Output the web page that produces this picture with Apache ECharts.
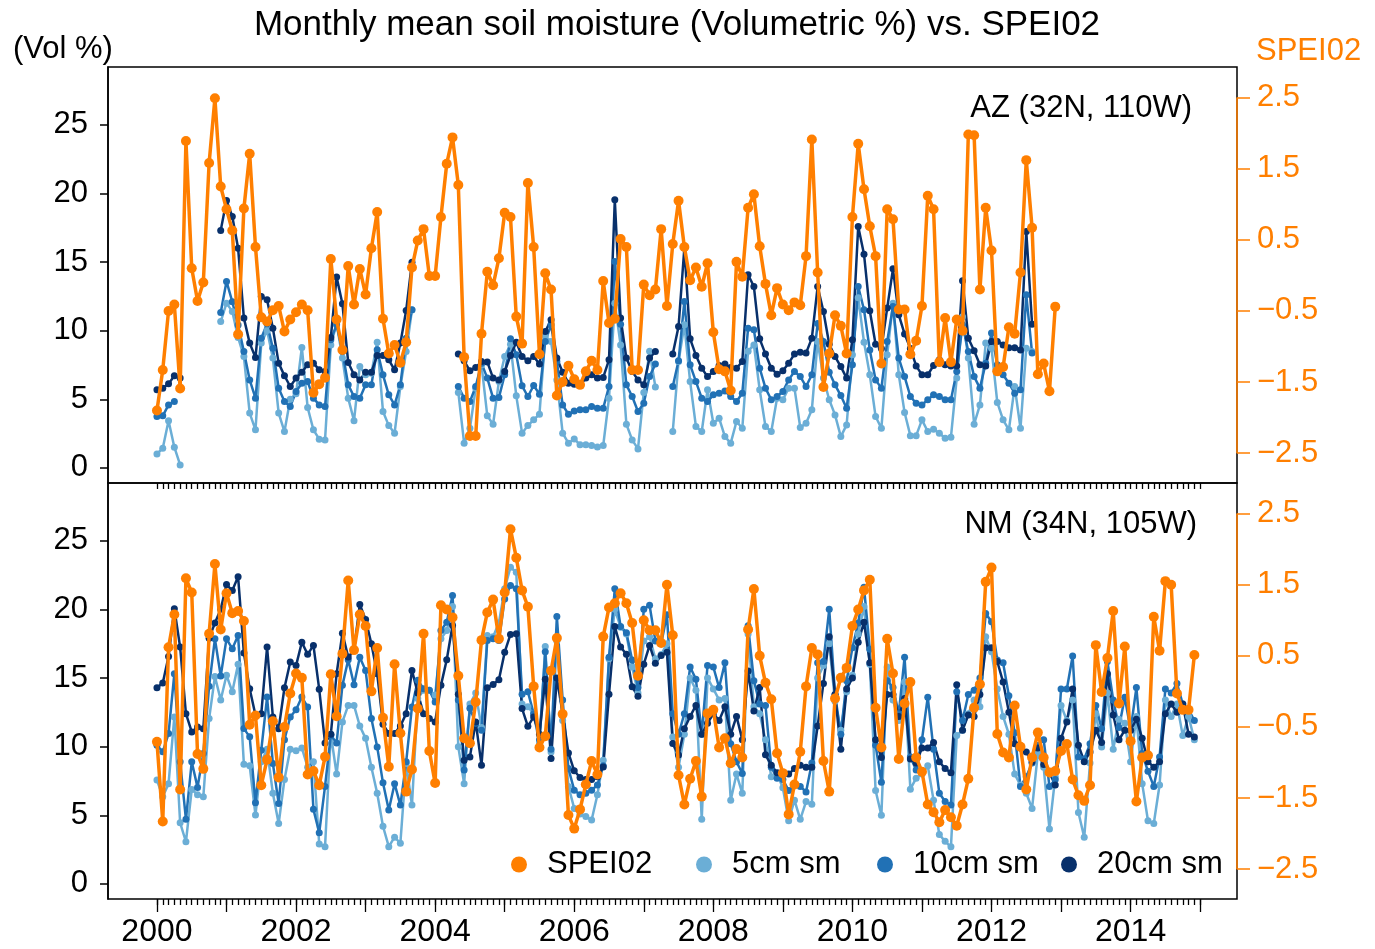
<!DOCTYPE html>
<html>
<head>
<meta charset="utf-8">
<script src="https://cdn.jsdelivr.net/npm/echarts@6/dist/echarts.min.js"></script>
<style>
html,body{margin:0;padding:0;background:#fff;}
#chart{width:1375px;height:949px;}
</style>
</head>
<body>
<div id="chart"></div>
<script>
// ---- Data (monthly, index 0 = Jan 2000) ----
const startYear = 2000;
const yearLabels = [2000, 2002, 2004, 2006, 2008, 2010, 2012, 2014];
const smTicks = [0, 5, 10, 15, 20, 25];
const speiTicks = [-2.5, -1.5, -0.5, 0.5, 1.5, 2.5];
const seriesNames = ['SPEI02', '5cm sm', '10cm sm', '20cm sm'];
const panelLabels = ['AZ (32N, 110W)', 'NM (34N, 105W)'];

// AZ panel
const azSpei = [-1.90,-1.33,-0.50,-0.41,-1.59,1.89,0.10,-0.36,-0.10,1.58,2.49,1.25,0.93,0.63,-0.83,0.94,1.71,0.40,-0.59,-0.65,-0.49,-0.43,-0.79,-0.62,-0.52,-0.41,-0.49,-1.65,-1.53,-1.44,0.23,-0.62,-1.05,0.13,-0.41,0.09,-0.27,0.38,0.89,-0.61,-1.10,-0.98,-1.23,-0.94,0.11,0.49,0.65,-0.01,-0.01,0.82,1.57,1.94,1.27,-1.15,-2.26,-2.26,-0.82,0.05,-0.14,0.24,0.88,0.82,-0.58,-0.96,1.30,0.40,-1.11,0.03,-0.20,-1.69,-1.50,-1.27,-1.46,-1.54,-1.35,-1.20,-1.33,-0.08,-0.67,-0.61,0.51,0.40,-1.33,-1.33,-0.13,-0.28,-0.20,0.65,-0.43,0.44,1.05,0.40,-0.07,0.11,-0.16,0.17,-0.80,-1.32,-1.35,-1.62,0.19,-0.02,0.95,1.14,0.41,-0.12,-0.56,-0.18,-0.41,-0.49,-0.38,-0.42,0.27,1.91,0.04,-1.57,-1.10,-0.56,-0.71,-1.10,0.82,1.85,1.21,0.69,0.27,-1.24,0.93,0.79,-0.48,-0.48,-1.11,-0.92,-0.43,1.12,0.93,-1.22,-0.60,-1.22,-0.62,-0.78,1.98,1.97,-0.20,0.95,0.35,-1.35,-1.29,-0.73,-0.82,0.04,1.62,0.67,-1.39,-1.24,-1.63,-0.44];
const az5 = [1.02,1.43,3.43,1.51,0.22,null,null,null,null,null,null,10.66,12.0,11.4,9.5,8.11,3.99,2.77,9.09,10.0,8.0,3.99,2.65,5.0,5.4,8.77,4.4,2.77,2.09,2.04,8.95,10.5,8.0,5.08,3.43,7.39,6.78,6.9,9.16,4.11,3.08,2.53,5.93,8.48,11.5,null,null,null,null,null,null,null,5.5,1.80,2.89,5.8,7.5,3.79,3.18,6.3,8.11,9.0,5.25,2.53,3.08,3.50,3.91,9.6,9.2,6.41,2.53,1.80,2.11,1.68,1.68,1.63,1.53,1.63,5.08,12.0,8.96,3.18,2.04,1.38,5.5,8.5,5.9,null,null,2.65,7.75,10.42,6.29,3.01,2.65,5.69,3.25,3.62,2.28,1.80,3.38,2.89,8.5,8.96,5.69,3.01,2.65,5.08,4.96,5.81,5.81,2.94,3.25,4.23,9.21,6.54,4.96,3.86,2.28,3.13,8.24,12.4,9.16,6.78,3.74,2.89,8.24,12.0,6.78,4.04,2.35,2.35,3.50,2.65,2.82,2.53,2.16,2.24,6.54,11.0,8.0,3.18,4.59,9.09,8.72,4.77,3.50,2.77,5.93,2.89,8.72,8.48];
const az10 = [3.74,3.79,4.59,4.83,null,null,null,null,null,null,null,11.32,13.58,12.1,10.4,8.48,6.41,5.08,9.45,10.5,8.72,5.81,4.83,4.47,5.56,6.17,6.29,5.08,4.59,4.47,9.33,10.42,8.48,6.05,5.20,5.08,6.05,6.05,8.60,6.78,5.32,4.59,6.05,9.45,11.52,null,null,null,null,null,null,null,5.93,5.08,4.83,5.93,7.63,6.54,5.08,5.12,6.78,9.40,8.24,5.98,5.20,6.0,5.37,9.21,10.42,7.75,4.59,3.91,4.15,4.23,4.23,4.47,4.35,4.35,5.93,15.04,10.47,6.05,5.20,4.11,4.71,6.65,7.56,null,null,5.93,7.80,12.12,7.51,6.29,5.08,4.83,5.32,5.44,5.61,5.20,4.83,5.44,10.18,10.06,7.26,5.81,4.96,5.20,5.56,6.41,7.02,6.65,5.93,6.78,10.52,9.21,6.97,6.05,5.27,4.35,7.51,13.21,11.52,8.58,6.41,5.81,9.21,11.76,8.0,6.65,5.20,4.71,4.59,4.96,5.32,5.20,4.96,4.96,7.02,10.42,8.48,6.65,5.81,7.63,9.82,7.51,6.78,6.17,5.44,5.69,12.61,8.36];
const az20 = [5.69,5.81,6.12,6.71,6.54,null,null,null,null,null,null,17.30,19.48,18.32,16.0,10.91,9.09,8.04,12.49,12.24,10.18,7.63,6.71,5.93,6.54,6.97,7.51,7.63,7.14,7.02,9.5,13.9,11.95,7.68,6.78,6.41,6.97,6.97,8.19,8.19,7.87,7.14,9.09,11.47,14.97,null,null,null,null,null,null,null,8.29,7.80,7.07,7.31,7.75,7.72,6.54,6.41,7.02,8.19,9.16,8.11,7.80,8.11,7.56,9.93,10.79,8.0,6.97,6.17,6.10,6.05,6.54,6.78,6.54,6.59,7.87,19.53,10.91,8.0,7.02,6.41,6.05,8.0,8.48,null,null,8.29,10.3,16.01,9.40,8.19,7.26,6.65,7.02,7.46,7.56,7.31,7.26,7.75,14.07,13.21,9.40,8.29,7.26,6.83,7.07,7.63,8.29,8.43,8.36,9.45,13.21,11.39,9.0,8.11,7.38,6.54,9.33,17.59,15.57,11.44,9.0,8.7,11.64,14.50,11.15,9.76,8.7,7.43,6.78,6.78,7.46,7.87,7.51,7.43,7.43,13.63,9.45,8.53,7.51,7.43,9.21,9.21,8.96,8.75,8.75,8.58,17.22,10.47];

// NM panel
const nmSpei = [-0.71,-1.83,0.62,1.08,-1.38,1.59,1.39,-0.88,-1.09,0.81,1.79,0.87,1.38,1.10,1.13,0.99,-0.47,-0.34,-1.32,-0.96,-0.42,-1.21,-0.50,-0.03,0.25,0.19,-1.17,-1.12,-1.32,-0.92,0.24,-0.35,0.53,1.56,0.58,1.08,0.92,0.0,0.61,-0.37,-1.06,0.38,-0.59,-1.41,-1.10,-0.24,0.81,-0.84,-1.29,1.21,1.15,1.04,0.22,-0.66,-0.73,-0.15,0.72,1.11,1.29,0.74,1.39,2.28,1.88,1.42,1.19,0.07,-0.79,-0.63,0.29,0.75,-0.32,-1.74,-1.93,-1.66,-1.31,-0.98,-1.17,0.77,1.18,1.24,1.38,1.24,0.96,0.22,1.00,0.86,0.86,0.68,1.50,0.79,-1.18,-1.59,-1.23,-0.98,-1.48,-0.31,-0.26,-0.79,-0.66,-1.01,-0.81,-0.93,0.87,1.44,0.50,0.12,-0.11,-0.87,-1.15,-1.73,-1.31,-0.85,0.07,0.61,0.52,-0.98,-1.41,-0.10,0.19,0.33,0.92,1.15,1.42,1.57,-0.23,-0.79,0.74,0.25,-0.95,-0.17,0.13,-0.93,-1.13,-1.59,-1.70,-1.84,-1.67,-1.77,-1.89,-1.59,-1.23,-0.23,0.10,1.54,1.74,-0.60,-0.86,-0.93,-0.20,-0.78,-1.38,-0.93,-0.58,-0.93,-1.14,-1.12,-0.84,-0.74,-1.24,-1.46,-1.54,-1.32,0.65,-0.01,0.47,1.13,-0.17,0.63,-0.70,-1.55,-0.93,-0.90,1.05,0.57,1.55,1.50,-0.03,-0.26,-0.26,0.51];
const nm5 = [7.56,6.35,7.3,12.16,4.45,3.07,6.88,6.5,6.35,12.04,15.1,13.4,15.2,14.0,16.0,8.72,8.6,5.01,8.9,9.8,6.6,4.4,7.6,9.8,9.7,9.9,8.5,8.9,2.91,2.71,10.9,8.0,11.8,13.0,13.0,11.5,10.6,8.5,6.6,4.2,2.71,3.4,2.96,8.77,5.74,13.5,14.1,14.1,13.75,17.85,18.46,20.2,9.99,7.3,13.1,13.9,11.4,18.1,18.0,19.0,21.5,23.06,22.7,13.1,12.9,12.4,10.2,17.3,9.6,17.7,11.9,7.1,5.5,5.1,4.9,4.65,6.5,9.0,16.4,20.0,18.7,18.2,15.8,13.9,17.7,18.0,16.4,16.7,17.5,10.7,8.5,10.9,15.0,14.1,4.7,15.0,14.2,13.4,13.5,6.1,8.0,6.6,18.2,12.9,12.4,10.5,7.8,8.0,7.0,4.6,6.1,4.7,6.0,5.8,15.0,15.9,17.5,13.3,11.2,14.0,15.2,18.2,20.2,16.0,6.8,5.0,15.8,13.4,11.9,14.7,6.9,7.7,8.0,8.6,6.1,3.6,3.1,2.7,10.8,11.2,12.4,13.4,12.9,18.0,16.9,14.2,12.2,10.9,8.0,7.2,6.6,5.5,9.5,8.5,4.0,7.8,13.0,11.9,13.4,5.2,3.4,8.8,12.4,9.98,13.9,9.8,12.0,11.7,8.9,12.2,7.3,4.6,4.4,7.2,13.4,12.2,13.1,10.8,12.2,10.5];
const nm10 = [10.10,9.62,10.95,15.31,8.89,4.70,8.89,7.03,9.50,14.4,17.85,15.14,17.85,17.13,18.10,11.31,10.71,5.91,9.74,13.61,8.77,5.86,10.5,12.16,12.69,13.61,12.89,5.43,3.73,7.1,10.83,10.27,14.46,16.33,14.5,16.5,15.55,12.04,9.98,7.36,5.38,7.3,5.74,8.89,12.89,14.83,14.22,14.1,13.24,18.46,19.06,21.0,13.4,8.3,12.8,11.7,11.2,17.73,17.85,17.73,20.76,21.73,21.5,13.81,14.0,12.4,10.5,16.9,9.8,19.48,13.4,8.4,6.83,6.5,6.6,6.83,7.2,8.6,16.5,21.5,18.75,18.3,16.3,14.3,20.0,20.3,17.7,17.5,19.6,12.4,10.9,12.4,15.8,14.9,10.9,15.9,15.8,14.3,16.1,10.2,8.9,8.04,18.8,14.8,13.1,13.0,8.5,7.7,7.6,6.8,7.2,7.1,6.7,8.8,16.1,16.2,20.0,13.8,10.9,14.8,17.2,19.0,21.6,17.1,10.1,7.4,14.8,14.3,12.4,16.5,9.25,8.3,10.5,13.6,9.8,6.6,6.0,5.75,14.0,11.9,13.8,14.1,15.0,19.7,19.1,16.3,16.1,13.7,11.0,7.1,7.8,8.8,10.1,10.5,7.1,7.6,14.2,14.2,16.6,9.25,9.1,10.2,13.0,11.3,16.2,13.4,11.4,13.6,11.2,14.3,9.5,8.2,7.1,9.25,14.2,13.9,14.6,13.1,12.7,11.9];
const nm20 = [14.29,14.63,16.57,20.04,17.25,12.40,11.07,11.43,11.3,17.9,19.0,20.0,21.8,21.37,22.38,16.81,14.22,12.28,12.4,17.25,12.16,11.3,14.29,16.16,15.9,17.6,16.72,17.37,14.17,10.27,10.9,15.31,18.26,16.52,17.0,20.35,19.26,17.49,15.31,11.63,10.95,10.95,11.5,12.4,15.55,13.9,12.4,12.04,11.8,14.46,16.33,18.82,13.81,9.01,9.25,11.80,8.65,14.29,14.53,14.87,16.88,18.17,18.22,12.77,11.48,12.16,10.9,14.9,9.13,15.0,12.4,9.54,8.24,7.75,7.61,7.61,7.8,8.52,13.81,18.75,17.25,16.72,14.36,13.66,16.0,17.37,16.08,16.64,16.88,10.22,9.38,11.3,12.2,13.0,10.9,11.7,12.4,11.9,12.9,10.9,12.2,10.5,15.5,12.6,14.3,9.4,8.65,8.1,8.0,8.0,8.4,8.65,8.5,8.5,11.5,14.6,18.0,13.8,9.8,14.2,15.0,17.6,19.06,16.1,10.5,9.2,13.8,13.8,12.2,13.5,9.1,8.8,9.9,9.9,10.3,8.9,8.4,8.1,14.5,11.2,12.3,12.2,13.8,17.2,17.2,16.2,14.7,12.5,10.2,9.9,9.6,8.9,9.9,8.7,8.1,7.2,10.6,11.8,14.2,10.1,8.9,9.6,11.2,10.3,15.3,12.3,10.5,11.2,11.2,12.0,10.6,8.9,8.5,8.9,12.4,13.1,12.5,13.1,10.9,10.7];

// ---- Styling ----
const ORANGE = '#ff7f00';
const C5 = '#6baed6', C10 = '#2171b5', C20 = '#08306b';
const FONT = 'Liberation Sans, Arial, Helvetica, sans-serif';
const X0 = 1999.296, X1 = 2015.53;
const FS = 31;

function toPairs(arr) {
  return arr.map((v, i) => [startYear + i / 12, v == null ? '-' : v]);
}
const monthTicks = [];
for (let m = 0; m <= 180; m++) monthTicks.push(startYear + m / 12);
const yearTicks = [];
for (let y = 2000; y <= 2015; y++) yearTicks.push(y);

const fmtSpei = v => (v < 0 ? '\u2212' : '') + Math.abs(v).toFixed(1);

function smSeries(name, data, color, xi, yi) {
  return {
    name, type: 'line', xAxisIndex: xi, yAxisIndex: yi,
    data: toPairs(data), color,
    lineStyle: { width: 2.5, color }, itemStyle: { color },
    symbol: 'circle', symbolSize: 7, showSymbol: true,
    connectNulls: false, clip: false, silent: true
  };
}
function speiSeries(data, xi, yi) {
  return {
    name: 'SPEI02', type: 'line', xAxisIndex: xi, yAxisIndex: yi,
    data: toPairs(data), color: ORANGE,
    lineStyle: { width: 3.5, color: ORANGE }, itemStyle: { color: ORANGE },
    symbol: 'circle', symbolSize: 10, showSymbol: true,
    connectNulls: false, clip: false, silent: true, z: 5
  };
}

const grids = [
  { left: 108, top: 67, width: 1129, height: 416 },
  { left: 108, top: 483, width: 1129, height: 416 }
].map(g => Object.assign(g, { show: true, borderColor: '#000', borderWidth: 1.5, backgroundColor: 'transparent' }));

function leftY(gi) {
  return {
    type: 'value', gridIndex: gi, min: -1.1, max: 29.2, position: 'left',
    axisLine: { show: true, onZero: false, lineStyle: { color: '#000', width: 1.5 } },
    axisTick: { show: true, length: 8, customValues: smTicks, lineStyle: { color: '#000', width: 1.5 } },
    axisLabel: { customValues: smTicks, fontSize: FS, color: '#000', fontFamily: FONT, margin: 20 },
    splitLine: { show: false }
  };
}
function rightY(gi) {
  return {
    type: 'value', gridIndex: gi, min: -2.92, max: 2.93, position: 'right',
    axisLine: { show: false, onZero: false },
    axisTick: { show: true, length: 13, customValues: speiTicks, lineStyle: { color: ORANGE, width: 1.5 } },
    axisLabel: { customValues: speiTicks, fontSize: FS, color: ORANGE, fontFamily: FONT, margin: 20, formatter: fmtSpei },
    splitLine: { show: false }
  };
}
function xAx(gi, ticks, len, labels) {
  return {
    type: 'value', gridIndex: gi, min: X0, max: X1, position: 'bottom',
    axisLine: { show: false, onZero: false }, splitLine: { show: false },
    axisTick: { show: true, length: len, customValues: ticks, lineStyle: { color: '#000', width: 1.3 } },
    axisLabel: labels
      ? { customValues: labels, fontSize: 32, color: '#000', fontFamily: FONT, margin: 17, formatter: v => String(Math.round(v)) }
      : { show: false }
  };
}

const legendCenters = [519, 704, 885, 1069];
const ICON_W = 46;
const legends = seriesNames.map((n, k) => ({
  data: [n], left: legendCenters[k] - 13, top: 844, orient: 'horizontal',
  icon: 'circle', itemWidth: ICON_W, itemHeight: 16,
  textStyle: { fontSize: FS, color: '#000', fontFamily: FONT },
  selectedMode: false
}));

const option = {
  animation: false,
  backgroundColor: '#fff',
  textStyle: { fontFamily: FONT },
  title: [
    { text: 'Monthly mean soil moisture (Volumetric %) vs. SPEI02', left: 672, top: 3, textAlign: 'center',
      textStyle: { fontSize: 35, fontWeight: 'normal', color: '#000', fontFamily: FONT } },
    { text: '(Vol %)', left: 8, top: 29, textStyle: { fontSize: FS, fontWeight: 'normal', color: '#000', fontFamily: FONT } },
    { text: 'SPEI02', left: 1251, top: 31, textStyle: { fontSize: FS, fontWeight: 'normal', color: ORANGE, fontFamily: FONT } },
    { text: panelLabels[0], right: 178, top: 88, textStyle: { fontSize: FS, fontWeight: 'normal', color: '#000', fontFamily: FONT } },
    { text: panelLabels[1], right: 173, top: 504, textStyle: { fontSize: FS, fontWeight: 'normal', color: '#000', fontFamily: FONT } }
  ],
  legend: legends,
  grid: grids,
  xAxis: [
    xAx(0, monthTicks, 6, null),
    xAx(1, monthTicks, 6, null),
    xAx(1, yearTicks, 13, yearLabels)
  ],
  yAxis: [leftY(0), rightY(0), leftY(1), rightY(1)],
  series: [
    smSeries('5cm sm', az5, C5, 0, 0),
    smSeries('10cm sm', az10, C10, 0, 0),
    smSeries('20cm sm', az20, C20, 0, 0),
    speiSeries(azSpei, 0, 1),
    smSeries('5cm sm', nm5, C5, 1, 2),
    smSeries('10cm sm', nm10, C10, 1, 2),
    smSeries('20cm sm', nm20, C20, 1, 2),
    speiSeries(nmSpei, 1, 3)
  ]
};

const chart = echarts.init(document.getElementById('chart'), null, { renderer: 'canvas' });
chart.setOption(option);

// orange right-axis segments spanning the SPEI tick range
const gfx = [];
[[0, 1], [1, 3]].forEach(([xi, yi]) => {
  const x = chart.convertToPixel({ xAxisIndex: xi }, X1);
  const yTop = chart.convertToPixel({ yAxisIndex: yi }, speiTicks[speiTicks.length - 1]);
  const yBot = chart.convertToPixel({ yAxisIndex: yi }, speiTicks[0]);
  gfx.push({ type: 'line', shape: { x1: x, y1: yTop, x2: x, y2: yBot }, style: { stroke: ORANGE, lineWidth: 1.6 }, z: 10 });
});
chart.setOption({ graphic: gfx });
</script>
</body>
</html>
